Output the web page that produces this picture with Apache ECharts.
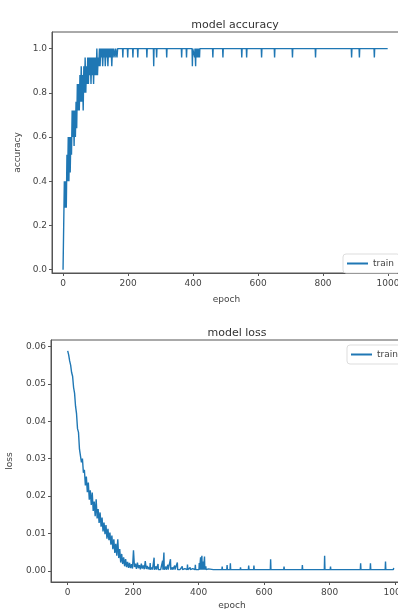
<!DOCTYPE html>
<html>
<head>
<meta charset="utf-8">
<script src="https://cdn.jsdelivr.net/npm/echarts@6/dist/echarts.min.js"></script>
<style>
  html, body { margin: 0; padding: 0; background: #fff; }
  #chart { width: 398px; height: 609px; }
</style>
</head>
<body>
<div id="chart"></div>
<script>
// 刻度
var epochTicks = [0, 200, 400, 600, 800, 1000];
var accTicks = [0, 0.2, 0.4, 0.6, 0.8, 1.0];
var lossTicks = [0, 0.01, 0.02, 0.03, 0.04, 0.05, 0.06];

// accuracy: epoch 0..170, every 2 epochs
var accEarly = [0.0, 0.2, 0.4, 0.28, 0.4, 0.28, 0.52, 0.4, 0.6, 0.4,
  0.6, 0.44, 0.6, 0.52, 0.72, 0.6, 0.72, 0.56, 0.72, 0.6,
  0.76, 0.64, 0.84, 0.72, 0.84, 0.72, 0.88, 0.76, 0.92, 0.76,
  0.88, 0.72, 0.92, 0.8, 0.96, 0.8, 0.92, 0.84, 0.96, 0.84,
  0.96, 0.88, 0.96, 0.84, 0.96, 0.88, 0.96, 0.84, 0.96, 0.88,
  0.96, 0.88, 1.0, 0.88, 0.96, 0.92, 1.0, 0.92, 1.0, 0.96,
  1.0, 0.92, 1.0, 0.96, 1.0, 0.92, 1.0, 0.96, 1.0, 0.92,
  1.0, 0.96, 1.0, 0.96, 1.0, 0.92, 1.0, 0.96, 1.0, 1.0,
  0.96, 1.0, 1.0, 0.96, 1.0, 1.0];
var accStep = 2;
var accTop = 1.0;
// accuracy dips after epoch 170: [epoch, value]
var accDips = [[184, 0.96], [199, 0.96], [215, 0.96], [230, 0.96], [258, 0.96],
  [279, 0.92], [288, 0.96], [319, 0.96], [365, 0.96], [380, 0.96], [398, 0.92],
  [405, 0.96], [408, 0.92], [412, 0.96], [416, 0.96], [420, 0.96], [461, 0.96],
  [492, 0.96], [550, 0.96], [565, 0.96], [611, 0.96], [651, 0.96], [706, 0.96],
  [777, 0.96], [888, 0.96], [912, 0.96], [958, 0.96]];

// loss: epoch 0..249, every 3 epochs
var lossEarly = [0.0588, 0.0577, 0.0561, 0.0550, 0.0530, 0.0520, 0.0490, 0.0475, 0.0440, 0.0420,
  0.0380, 0.0370, 0.0325, 0.0330, 0.0290, 0.0300, 0.0262, 0.0270, 0.0228, 0.0252,
  0.0210, 0.0236, 0.0190, 0.0215, 0.0176, 0.0209, 0.0160, 0.0185, 0.0146, 0.0191,
  0.0140, 0.0165, 0.0128, 0.0156, 0.0118, 0.0142, 0.0105, 0.0129, 0.0098, 0.0122,
  0.0086, 0.0112, 0.0082, 0.0102, 0.0070, 0.0094, 0.0058, 0.0084, 0.0048, 0.0072,
  0.0040, 0.0084, 0.0034, 0.0058, 0.0022, 0.0045, 0.0018, 0.0036, 0.0012, 0.0031,
  0.0010, 0.0024, 0.0008, 0.0021, 0.0007, 0.0018, 0.0006, 0.0055, 0.0010, 0.0019,
  0.0005, 0.0022, 0.0007, 0.0015, 0.0004, 0.0019, 0.0006, 0.0014, 0.0004, 0.0026,
  0.0005, 0.0013, 0.0004, 0.0010];
var lossStep = 3;
var lossFloor = 0.0003;
// loss spikes after epoch 250: [epoch, value]
var lossSpikes = [[252, 0.0021], [258, 0.0009], [264, 0.0035], [270, 0.0012], [276, 0.0018],
  [283, 0.0008], [290, 0.0027], [294, 0.0049], [300, 0.0011], [306, 0.0016], [314, 0.0031],
  [320, 0.0009], [327, 0.0014], [335, 0.0022], [342, 0.0008], [350, 0.0012], [358, 0.0006],
  [366, 0.0017], [374, 0.0009], [382, 0.0006], [390, 0.0016], [396, 0.0008], [402, 0.0021],
  [406, 0.0036], [410, 0.0040], [414, 0.0025], [418, 0.0038], [422, 0.0012], [430, 0.0005],
  [446, 0.0006], [458, 0.0004], [472, 0.0011], [487, 0.0015], [497, 0.0020], [510, 0.0007],
  [528, 0.0009], [540, 0.0005], [553, 0.0014], [569, 0.0014], [580, 0.0005], [598, 0.0004],
  [620, 0.0031], [640, 0.0006], [661, 0.0011], [690, 0.0004], [717, 0.0015], [735, 0.0004],
  [747, 0.0008], [767, 0.0008], [785, 0.0040], [803, 0.0011], [830, 0.0003], [850, 0.0004],
  [874, 0.0008], [895, 0.0020], [925, 0.0020], [950, 0.0004], [971, 0.0025], [996, 0.0008]];
var lastEpoch = 999;

function buildSeries(early, step, dips, base) {
  var out = early.map(function (v, i) { return [i * step, v]; });
  dips.forEach(function (d) {
    out.push([d[0] - 1, base]);
    out.push(d);
    out.push([d[0] + 1, base]);
  });
  out.push([lastEpoch, base]);
  return out;
}

var accData = buildSeries(accEarly, accStep, accDips, accTop);
var lossData = buildSeries(lossEarly, lossStep, lossSpikes, lossFloor);

var myChart = echarts.init(document.getElementById('chart'));

var font = 'DejaVu Sans';
var axisColor = '#555';
var textColor = '#444';
var lineColor = '#1f77b4';

function xAxisOpt(grid, min, max, gap) {
  return {
    gridIndex: grid,
    type: 'value',
    min: min,
    max: max,
    name: 'epoch',
    nameLocation: 'middle',
    nameGap: gap,
    nameTextStyle: { color: textColor, fontSize: 9, fontFamily: font },
    splitLine: { show: false },
    axisLine: { onZero: false, lineStyle: { color: axisColor, width: 1 } },
    axisTick: { customValues: epochTicks, length: 3, lineStyle: { color: axisColor } },
    axisLabel: {
      customValues: epochTicks, color: textColor, fontSize: 9, fontFamily: font, margin: 6,
      formatter: function (v) { return String(v); }
    }
  };
}

function yAxisOpt(grid, min, max, ticks, digits, name, gap) {
  return {
    gridIndex: grid,
    type: 'value',
    min: min,
    max: max,
    name: name,
    nameLocation: 'middle',
    nameGap: gap,
    nameTextStyle: { color: textColor, fontSize: 9, fontFamily: font },
    splitLine: { show: false },
    axisLine: { show: true, onZero: false, lineStyle: { color: axisColor, width: 1 } },
    axisTick: { show: true, customValues: ticks, length: 3, lineStyle: { color: axisColor } },
    axisLabel: {
      customValues: ticks, color: textColor, fontSize: 9, fontFamily: font, margin: 5,
      formatter: function (v) { return v.toFixed(digits); }
    }
  };
}

var legendBase = {
  orient: 'vertical',
  icon: 'rect',
  itemWidth: 21,
  itemHeight: 2,
  itemGap: 4,
  padding: [5, 6, 5, 4],
  borderColor: '#ddd',
  borderWidth: 1,
  borderRadius: 3,
  backgroundColor: '#fff',
  textStyle: { color: textColor, fontSize: 9, fontFamily: font },
  data: ['train']
};

option = {
  animation: false,
  backgroundColor: '#fff',
  title: [
    { text: 'model accuracy', left: 230, top: 15, textAlign: 'center',
      textStyle: { color: '#333', fontSize: 11, fontWeight: 'normal', fontFamily: font } },
    { text: 'model loss', left: 232, top: 323, textAlign: 'center',
      textStyle: { color: '#333', fontSize: 11, fontWeight: 'normal', fontFamily: font } }
  ],
  legend: [
    Object.assign({}, legendBase, { left: 343, top: 254 }),
    Object.assign({}, legendBase, { left: 347, top: 345 })
  ],
  grid: [
    { left: 52, top: 32, width: 349, height: 241, show: true, borderColor: axisColor, borderWidth: 1,
      outerBoundsMode: 'none', containLabel: false },
    { left: 51, top: 340, width: 362, height: 242, show: true, borderColor: axisColor, borderWidth: 1,
      outerBoundsMode: 'none', containLabel: false }
  ],
  xAxis: [
    xAxisOpt(0, -34, 1040, 22),
    xAxisOpt(1, -51, 1055, 19)
  ],
  yAxis: [
    yAxisOpt(0, -0.015, 1.075, accTicks, 1, 'accuracy', 27),
    yAxisOpt(1, -0.003, 0.0617, lossTicks, 2, 'loss', 37)
  ],
  series: [
    {
      name: 'train', type: 'line', xAxisIndex: 0, yAxisIndex: 0,
      data: accData, showSymbol: false,
      lineStyle: { color: lineColor, width: 1.4 }, itemStyle: { color: lineColor }
    },
    {
      name: 'train', type: 'line', xAxisIndex: 1, yAxisIndex: 1,
      data: lossData, showSymbol: false,
      lineStyle: { color: lineColor, width: 1.4 }, itemStyle: { color: lineColor }
    }
  ]
};

myChart.setOption(option);
</script>
</body>
</html>
